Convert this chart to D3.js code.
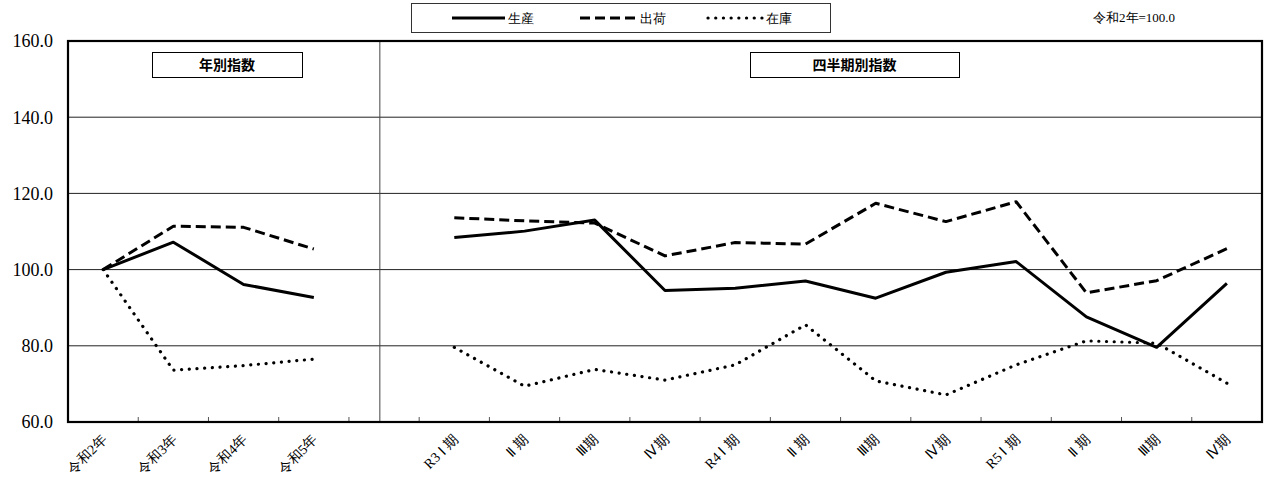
<!DOCTYPE html>
<html>
<head>
<meta charset="utf-8">
<script src="https://cdn.jsdelivr.net/npm/d3@7"></script>
<style>
  body { margin: 0; background: #fff; }
  svg { display: block; }
  .serif { font-family: "Liberation Serif", serif; }
  .gothic { font-family: "Noto Sans CJK JP", sans-serif; }
</style>
</head>
<body>
<div id="root"></div>
<script>
// data
const yearLabels = ["令和2年", "令和3年", "令和4年", "令和5年"]
const quarterLabels = ["R3 Ⅰ 期", "Ⅱ 期", "Ⅲ期", "Ⅳ期", "R4 Ⅰ 期", "Ⅱ 期", "Ⅲ期", "Ⅳ期", "R5 Ⅰ 期", "Ⅱ 期", "Ⅲ期", "Ⅳ期"]

const yearProd = [100, 107.2, 96.1, 92.7]
const yearShip = [100, 111.4, 111.1, 105.4]
const yearInv = [100, 73.6, 74.8, 76.5]

const qProd = [108.4, 110.1, 113.0, 94.5, 95.1, 97.0, 92.5, 99.3, 102.1, 87.6, 79.6, 96.4]
const qShip = [113.6, 112.8, 112.2, 103.6, 107.1, 106.7, 117.4, 112.6, 117.8, 93.9, 97.1, 105.5]
const qInv = [79.6, 69.4, 73.8, 71.0, 75.0, 85.5, 70.8, 67.1, 75.0, 81.3, 80.7, 70.2]

const yTicks = [60, 80, 100, 120, 140, 160]

const seriesNames = ["生産", "出荷", "在庫"]
const baseNote = "令和2年=100.0"
const panelTitles = ["年別指数", "四半期別指数"]

// layout
const W = 1267, H = 483
const plot = { left: 68, right: 1262, top: 41, bottom: 422 }

const styles = [
  { width: 3, dash: null, cap: "butt" },
  { width: 3, dash: "10 5", cap: "butt" },
  { width: 3.2, dash: "0.1 7.6", cap: "round" }
]

// categories: 4 years + 1 blank + 12 quarters
const labels = [...yearLabels, "", ...quarterLabels]
const idx = d3.range(labels.length)

const x = d3.scaleBand().domain(idx).range([plot.left, plot.right]).paddingInner(0).paddingOuter(0)
const y = d3.scaleLinear().domain([60, 160]).range([plot.bottom, plot.top])
const cx = i => x(i) + x.bandwidth() / 2

const svg = d3.select("#root").append("svg")
  .attr("width", W).attr("height", H)

// gridlines
svg.append("g").selectAll("line")
  .data(yTicks.slice(1, -1))
  .join("line")
  .attr("x1", plot.left).attr("x2", plot.right)
  .attr("y1", d => y(d)).attr("y2", d => y(d))
  .attr("stroke", "#222").attr("stroke-width", 1)

// divider between annual and quarterly
const divX = x(4) + x.bandwidth() * 0.44
svg.append("line")
  .attr("x1", divX).attr("x2", divX)
  .attr("y1", plot.top).attr("y2", plot.bottom)
  .attr("stroke", "#444").attr("stroke-width", 1)

// ticks at category boundaries
svg.append("g").selectAll("line")
  .data(idx.slice(1))
  .join("line")
  .attr("x1", d => x(d)).attr("x2", d => x(d))
  .attr("y1", plot.bottom).attr("y2", plot.bottom - 5)
  .attr("stroke", "#555").attr("stroke-width", 1)

// y tick labels
svg.append("g").selectAll("text")
  .data(yTicks)
  .join("text")
  .attr("class", "serif")
  .attr("x", 53).attr("y", d => y(d))
  .attr("dy", "0.35em")
  .attr("text-anchor", "end")
  .style("font-size", "18px")
  .text(d => d.toFixed(1))

// x labels, rotated
svg.append("g").selectAll("text")
  .data(idx.filter(i => labels[i] !== ""))
  .join("text")
  .attr("class", "serif")
  .attr("transform", i => "translate(" + (cx(i) + 1) + "," + (plot.bottom + 15) + ") rotate(-45)")
  .attr("text-anchor", "end")
  .attr("dy", "0.35em")
  .style("font-size", "14px")
  .text(i => labels[i])

// lines
const line = d3.line().x(d => cx(d.i)).y(d => y(d.v))
const toPts = (arr, offset) => arr.map((v, k) => ({ i: k + offset, v }))
const groups = [
  [yearProd, qProd],
  [yearShip, qShip],
  [yearInv, qInv]
]
groups.forEach((g, s) => {
  [toPts(g[0], 0), toPts(g[1], 5)].forEach(pts => {
    svg.append("path")
      .attr("d", line(pts))
      .attr("fill", "none")
      .attr("stroke", "#000")
      .attr("stroke-width", styles[s].width)
      .attr("stroke-dasharray", styles[s].dash)
      .attr("stroke-linecap", styles[s].cap)
      .attr("stroke-linejoin", "round")
  })
})

// plot border
svg.append("rect")
  .attr("x", plot.left).attr("y", plot.top)
  .attr("width", plot.right - plot.left).attr("height", plot.bottom - plot.top)
  .attr("fill", "none").attr("stroke", "#000").attr("stroke-width", 2.2)

// panel title boxes
const titleBoxes = [
  { x: 152, w: 150, t: panelTitles[0] },
  { x: 750, w: 209, t: panelTitles[1] }
]
titleBoxes.forEach(b => {
  svg.append("rect").attr("x", b.x + 0.5).attr("y", 52.5).attr("width", b.w).attr("height", 25)
    .attr("fill", "#fff").attr("stroke", "#000").attr("stroke-width", 1)
  svg.append("text").attr("class", "gothic")
    .attr("x", b.x + b.w / 2).attr("y", 65).attr("dy", "0.35em")
    .attr("text-anchor", "middle")
    .style("font-weight", "bold").style("font-size", "14px")
    .text(b.t)
})

// legend
const legend = svg.append("g")
legend.append("rect").attr("x", 411.5).attr("y", 3.5).attr("width", 419).attr("height", 29)
  .attr("fill", "#fff").attr("stroke", "#333").attr("stroke-width", 1)
const legItems = [
  { x1: 452, x2: 505 },
  { x1: 580, x2: 637 },
  { x1: 708, x2: 763 }
]
legItems.forEach((it, s) => {
  legend.append("line")
    .attr("x1", it.x1).attr("x2", it.x2).attr("y1", 18).attr("y2", 18)
    .attr("stroke", "#000").attr("stroke-width", styles[s].width)
    .attr("stroke-dasharray", styles[s].dash)
    .attr("stroke-linecap", styles[s].cap)
  legend.append("text").attr("class", "serif")
    .attr("x", it.x2 + 3).attr("y", 18).attr("dy", "0.35em")
    .style("font-size", "13px")
    .text(seriesNames[s])
})

// base note
svg.append("text").attr("class", "serif")
  .attr("x", 1093).attr("y", 17).attr("dy", "0.35em")
  .style("font-size", "13px")
  .text(baseNote)
</script>
</body>
</html>
